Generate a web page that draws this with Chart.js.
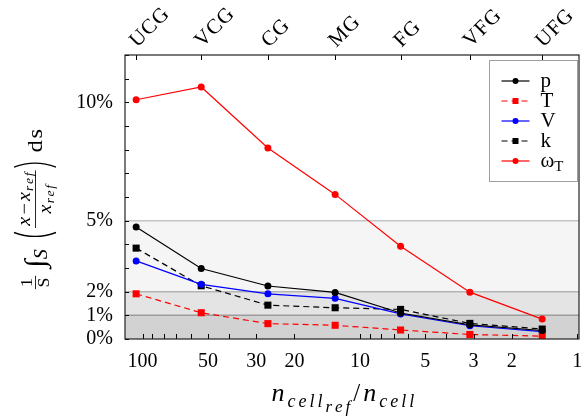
<!DOCTYPE html>
<html lang="en">
<head>
<meta charset="UTF-8">
<title>Relative error vs. grid refinement</title>
<style>
    body { margin: 0; background: #fff; }
    #wrap { width: 584px; height: 416px; }
</style>
<script src="https://cdn.jsdelivr.net/npm/chart.js"></script>
</head>
<body>
<div id="wrap"><canvas id="errChart" width="584" height="416"></canvas></div>
<script>
// grid levels and cell ratio n_cell_ref / n_cell
const gridNames = ['UCG', 'VCG', 'CG', 'MG', 'FG', 'VFG', 'UFG'];
const cellRatio = [107, 53.7, 26.5, 13, 6.5, 3.12, 1.45];

// error in percent
const errP      = [4.73, 2.98, 2.24, 1.97, 1.10, 0.60, 0.36];
const errT      = [1.91, 1.11, 0.65, 0.58, 0.38, 0.19, 0.12];
const errV      = [3.30, 2.31, 1.91, 1.72, 1.06, 0.56, 0.31];
const errK      = [3.84, 2.25, 1.43, 1.32, 1.25, 0.66, 0.42];
const errOmegaT = [10.11, 10.65, 8.07, 6.11, 3.92, 1.98, 0.84];

// ticks
const xTickVals   = [1, 2, 3, 4, 5, 6, 7, 8, 9, 10, 20, 30, 40, 50, 60, 70, 80, 90, 100];
const xTickLabels = [100, 50, 30, 20, 10, 5, 3, 2, 1];
const yTickVals   = [0, 1, 2, 3, 4, 5, 6, 7, 8, 9, 10, 11, 12];
const yTickLabels = [0, 1, 2, 5, 10];
const bandEdges   = [0, 1, 2, 5];

const serif = '"Liberation Serif", "DejaVu Serif", serif';
const bandColors = ['#d2d2d2', '#e4e4e4', '#f5f5f5'];
const bandLineColors = ['#9c9c9c', '#b4b4b4', '#c4c4c4'];

function series(vals) {
    return vals.map((y, i) => ({ x: cellRatio[i], y: y }));
}

// shaded error bands behind the lines
const bandsPlugin = {
    id: 'bands',
    beforeDatasetsDraw(chart) {
        const { ctx, chartArea: a, scales: { y } } = chart;
        ctx.save();
        for (let i = 0; i < bandEdges.length - 1; i++) {
            const y0 = y.getPixelForValue(bandEdges[i]);
            const y1 = y.getPixelForValue(bandEdges[i + 1]);
            ctx.fillStyle = bandColors[i];
            ctx.fillRect(a.left, y1, a.right - a.left, y0 - y1);
        }
        ctx.lineWidth = 1.5;
        for (let i = 1; i < bandEdges.length; i++) {
            const py = y.getPixelForValue(bandEdges[i]);
            ctx.strokeStyle = bandLineColors[i - 1];
            ctx.beginPath();
            ctx.moveTo(a.left, py);
            ctx.lineTo(a.right, py);
            ctx.stroke();
        }
        ctx.restore();
    }
};

function marker(ctx, style, x, y, r) {
    ctx.beginPath();
    if (style === 'rect') {
        ctx.rect(x - r, y - r, 2 * r, 2 * r);
    } else {
        ctx.arc(x, y, r, 0, Math.PI * 2);
    }
    ctx.fill();
}

// text drawn letter by letter with extra spacing (math fonts are wider)
function spacedWidth(ctx, text, sp) {
    let w = 0;
    for (const ch of text) w += ctx.measureText(ch).width + sp;
    return w - sp;
}
function spacedText(ctx, text, x, y, sp, draw) {
    for (const ch of text) {
        if (draw) ctx.fillText(ch, x, y);
        x += ctx.measureText(ch).width + sp;
    }
    return x - sp;
}

// y axis title: 1/S ∫_S ((x - x_ref)/x_ref) ds
function drawYTitle(ctx, cx, cy, len) {
    ctx.save();
    ctx.fillStyle = '#000';
    ctx.strokeStyle = '#000';
    ctx.textAlign = 'left';
    ctx.textBaseline = 'alphabetic';

    const layout = (draw, u) => {
        // 1/S
        ctx.font = '16px ' + serif;
        let w = Math.max(ctx.measureText('1').width, ctx.measureText('S').width) + 3;
        if (draw) {
            ctx.textAlign = 'center';
            ctx.fillText('1', u + w / 2, -3);
            ctx.fillText('S', u + w / 2, 14);
            ctx.textAlign = 'left';
            ctx.lineWidth = 0.8;
            ctx.beginPath(); ctx.moveTo(u, 0.5); ctx.lineTo(u + w, 0.5); ctx.stroke();
        }
        u += w + 7;
        // integral with subscript S
        ctx.font = 'italic 28px ' + serif;
        w = ctx.measureText('\u222B').width;
        if (draw) ctx.fillText('\u222B', u, 9);
        u += w;
        ctx.font = 'italic 18px ' + serif;
        w = ctx.measureText('S').width;
        if (draw) ctx.fillText('S', u, 12);
        u += w + 9;
        // left paren
        if (draw) {
            ctx.lineWidth = 1.2;
            ctx.beginPath(); ctx.moveTo(u + 6, -21); ctx.quadraticCurveTo(u - 1, 0, u + 6, 21); ctx.stroke();
        }
        u += 10;
        // fraction
        ctx.font = 'italic 18px ' + serif;
        const wx = ctx.measureText('x').width;
        ctx.font = '18px ' + serif;
        const wm = ctx.measureText('\u2212').width + 4;
        ctx.font = 'italic 12px ' + serif;
        const wr = spacedWidth(ctx, 'ref', 1.5) + 1;
        const wn = wx + wm + wx + wr;
        const wd = wx + wr;
        w = Math.max(wn, wd) + 4;
        if (draw) {
            let p = u + (w - wn) / 2;
            ctx.font = 'italic 18px ' + serif; ctx.fillText('x', p, -5); p += wx + 2;
            ctx.font = '18px ' + serif; ctx.fillText('\u2212', p, -5); p += wm - 2;
            ctx.font = 'italic 18px ' + serif; ctx.fillText('x', p, -5); p += wx + 1;
            ctx.font = 'italic 12px ' + serif; spacedText(ctx, 'ref', p, -2, 1.5, true);
            p = u + (w - wd) / 2;
            ctx.font = 'italic 18px ' + serif; ctx.fillText('x', p, 16); p += wx + 1;
            ctx.font = 'italic 12px ' + serif; spacedText(ctx, 'ref', p, 19, 1.5, true);
            ctx.lineWidth = 0.8;
            ctx.beginPath(); ctx.moveTo(u, 0.5); ctx.lineTo(u + w, 0.5); ctx.stroke();
        }
        u += w + 3;
        // right paren
        if (draw) {
            ctx.lineWidth = 1.2;
            ctx.beginPath(); ctx.moveTo(u, -21); ctx.quadraticCurveTo(u + 7, 0, u, 21); ctx.stroke();
        }
        u += 13;
        ctx.font = '22px ' + serif;
        w = spacedWidth(ctx, 'ds', 1.5);
        if (draw) spacedText(ctx, 'ds', u, 7, 1.5, true);
        return u + w;
    };
    const total = layout(false, 0);
    ctx.translate(cx, cy);
    ctx.rotate(-Math.PI / 2);
    ctx.scale(Math.min(len / total, 1.12), 1);
    layout(true, -total / 2);
    ctx.restore();
}

// x axis title: n_cell_ref / n_cell
function drawXTitle(ctx, cx, by, len) {
    ctx.save();
    ctx.fillStyle = '#000';
    ctx.textAlign = 'left';
    ctx.textBaseline = 'alphabetic';
    const parts = [
        ['n', 'italic 26px', 0],
        ['cell', 'italic 18px', 6],
        ['ref', 'italic 17px', 11],
        ['/', '25px', 0],
        ['n', 'italic 26px', 0],
        ['cell', 'italic 18px', 6]
    ];
    let natural = 0, count = 0;
    parts.forEach(p => {
        ctx.font = p[1] + ' ' + serif;
        natural += ctx.measureText(p[0]).width;
        count += p[0].length;
    });
    const sp = Math.max(0, (len - natural) / count);
    let x = cx - len / 2;
    parts.forEach(p => {
        ctx.font = p[1] + ' ' + serif;
        x = spacedText(ctx, p[0], x, by + p[2], sp, true) + sp;
    });
    ctx.restore();
}

// frame, inward tick marks, top labels, legend and axis titles
const framePlugin = {
    id: 'frame',
    afterDraw(chart) {
        const { ctx, chartArea: a, scales } = chart;
        ctx.save();
        ctx.strokeStyle = '#000';
        ctx.lineWidth = 1;
        ctx.beginPath();
        scales.x.ticks.forEach(t => {
            const px = Math.round(scales.x.getPixelForValue(t.value)) + 0.5;
            ctx.moveTo(px, a.bottom); ctx.lineTo(px, a.bottom - 5);
        });
        scales.xTop.ticks.forEach(t => {
            const px = Math.round(scales.xTop.getPixelForValue(t.value)) + 0.5;
            ctx.moveTo(px, a.top); ctx.lineTo(px, a.top + 5);
        });
        scales.y.ticks.forEach(t => {
            const py = Math.round(scales.y.getPixelForValue(t.value)) + 0.5;
            ctx.moveTo(a.left, py); ctx.lineTo(a.left + 4, py);
        });
        ctx.stroke();
        ctx.lineWidth = 1.2;
        ctx.strokeStyle = '#222';
        ctx.strokeRect(a.left, a.top, a.right - a.left, a.bottom - a.top);

        // grid names on the top axis, rotated 45 degrees
        ctx.fillStyle = '#000';
        ctx.font = '21px ' + serif;
        ctx.textAlign = 'left';
        ctx.textBaseline = 'alphabetic';
        scales.xTop.ticks.forEach((t, i) => {
            const px = scales.xTop.getPixelForValue(t.value);
            ctx.save();
            ctx.translate(px + 1, a.top - 7);
            ctx.rotate(-Math.PI / 4);
            spacedText(ctx, gridNames[i], 0, 0, 1, true);
            ctx.restore();
        });

        // legend box
        const lx = 489.5, ly = 60.5;
        ctx.fillStyle = '#fff';
        ctx.fillRect(lx, ly, 88, 121);
        ctx.strokeStyle = '#a0a0a0';
        ctx.lineWidth = 1;
        ctx.strokeRect(lx, ly, 88, 121);
        chart.data.datasets.forEach((ds, i) => {
            const y = ly + 20.5 + 20 * i;
            ctx.strokeStyle = ds.borderColor;
            ctx.lineWidth = ds.borderWidth;
            ctx.setLineDash(ds.borderDash || []);
            ctx.beginPath(); ctx.moveTo(lx + 12, y); ctx.lineTo(lx + 40, y); ctx.stroke();
            ctx.setLineDash([]);
            ctx.fillStyle = ds.backgroundColor;
            marker(ctx, ds.pointStyle, lx + 26, y, 3);
            ctx.fillStyle = '#000';
            ctx.font = '21px ' + serif;
            const name = ds.label.split('_');
            ctx.fillText(name[0], lx + 51, y + 6);
            if (name[1]) {
                const w = ctx.measureText(name[0]).width;
                ctx.font = '15px ' + serif;
                ctx.fillText(name[1], lx + 51 + w, y + 10);
            }
        });
        ctx.restore();

        drawYTitle(ctx, 35, 209, 168);
        drawXTitle(ctx, 344, 401, 145);
    }
};

const datasets = [
    { label: 'p', data: series(errP), borderColor: '#000000', backgroundColor: '#000000', pointStyle: 'circle', pointRadius: 3.5 },
    { label: 'T', data: series(errT), borderColor: '#ff0000', backgroundColor: '#ff0000', pointStyle: 'rect', pointRadius: 5, borderDash: [6, 4] },
    { label: 'V', data: series(errV), borderColor: '#0000ff', backgroundColor: '#0000ff', pointStyle: 'circle', pointRadius: 3.5 },
    { label: 'k', data: series(errK), borderColor: '#000000', backgroundColor: '#000000', pointStyle: 'rect', pointRadius: 5, borderDash: [6, 4] },
    { label: '\u03C9_T', data: series(errOmegaT), borderColor: '#ff0000', backgroundColor: '#ff0000', pointStyle: 'circle', pointRadius: 3.5 }
];
datasets.forEach(ds => {
    ds.borderWidth = 1.2;
    ds.pointBorderWidth = 0;
    ds.tension = 0;
    ds.fill = false;
});

new Chart(document.getElementById('errChart').getContext('2d'), {
    type: 'line',
    data: { datasets: datasets },
    options: {
        responsive: false,
        animation: false,
        layout: { padding: { left: 0, right: 1, top: 0, bottom: 0 } },
        plugins: { legend: { display: false }, tooltip: { enabled: false } },
        scales: {
            x: {
                type: 'logarithmic', position: 'bottom', reverse: true,
                min: 0.982, max: 120.4,
                afterBuildTicks: s => { s.ticks = xTickVals.map(v => ({ value: v })); },
                afterFit: s => { s.height = 77; },
                grid: { display: false, drawTicks: false },
                border: { display: false },
                ticks: {
                    autoSkip: false, maxRotation: 0, padding: 11, color: '#000',
                    font: { family: serif, size: 20 },
                    callback: v => xTickLabels.includes(v) ? String(v) : ''
                }
            },
            xTop: {
                type: 'logarithmic', position: 'top', reverse: true,
                min: 0.982, max: 120.4,
                afterBuildTicks: s => { s.ticks = cellRatio.map(v => ({ value: v })); },
                afterFit: s => { s.height = 55; },
                grid: { display: false, drawTicks: false },
                border: { display: false },
                ticks: { display: false }
            },
            y: {
                type: 'linear', min: 0, max: 12,
                afterBuildTicks: s => { s.ticks = yTickVals.map(v => ({ value: v })); },
                afterFit: s => { s.width = 125; },
                grid: { display: false, drawTicks: false },
                border: { display: false },
                ticks: {
                    autoSkip: false, padding: 12, color: '#000',
                    font: { family: serif, size: 20 },
                    callback: v => yTickLabels.includes(v) ? v + '%' : ''
                }
            }
        }
    },
    plugins: [bandsPlugin, framePlugin]
});
</script>
</body>
</html>
